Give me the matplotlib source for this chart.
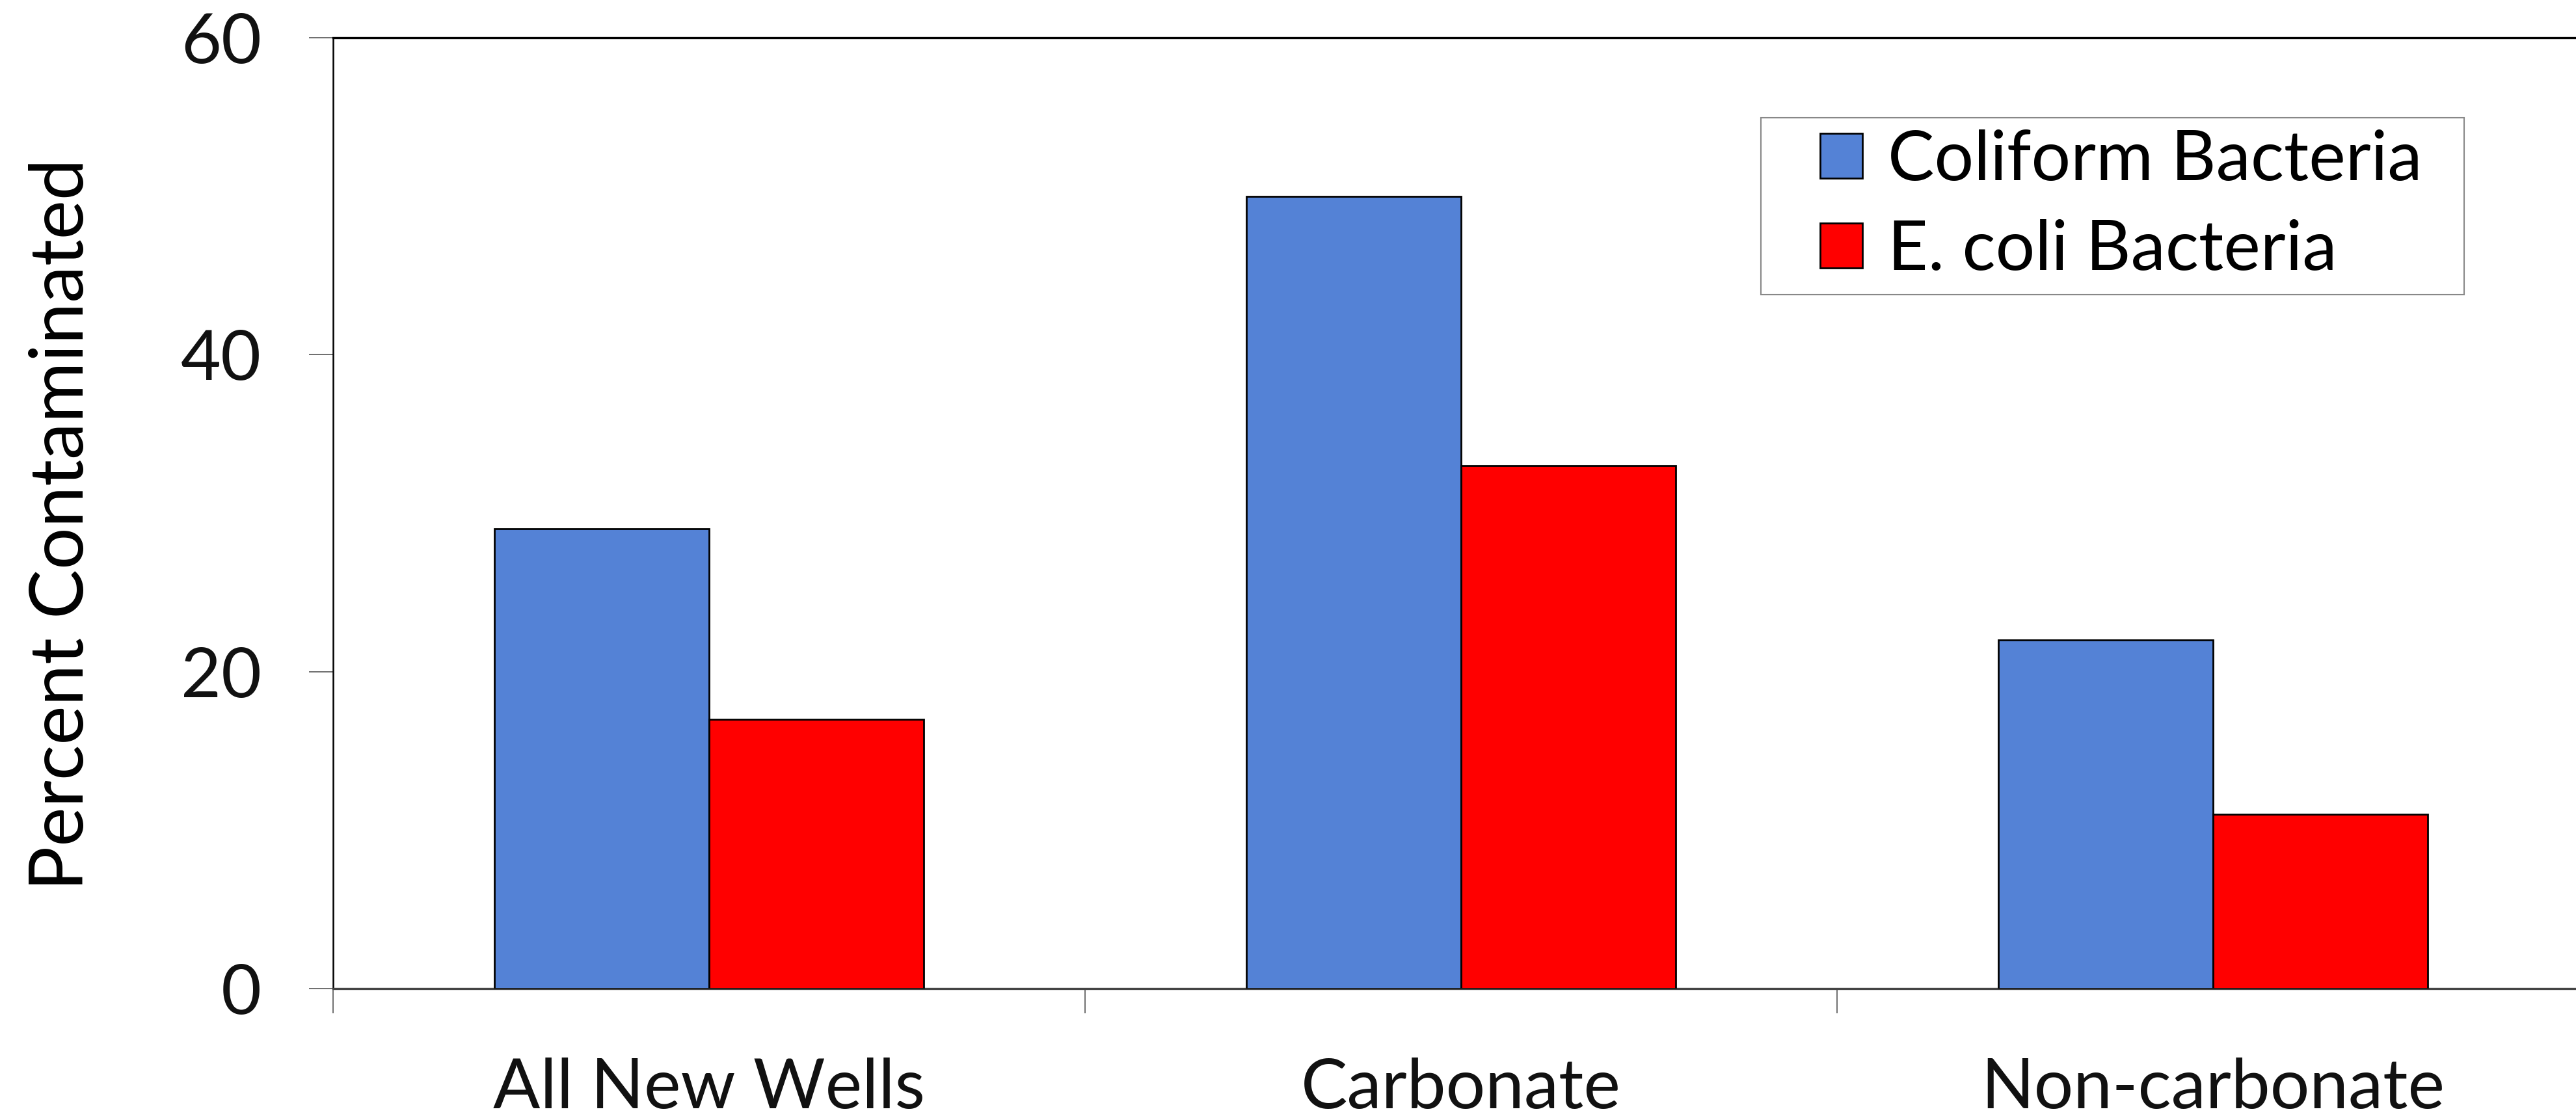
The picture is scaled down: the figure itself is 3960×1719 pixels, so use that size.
import numpy as np
import matplotlib
matplotlib.use("Agg")
import matplotlib.pyplot as plt
from matplotlib.ticker import FixedLocator
from matplotlib.patches import Rectangle

plt.rcParams["font.family"] = ["Lato", "DejaVu Sans"]

# data
categories = ["All New Wells", "Carbonate", "Non-carbonate"]
coliform = [29, 50, 22]
ecoli = [17, 33, 11]
series_names = ["Coliform Bacteria", "E. coli Bacteria"]
yticks = [0, 20, 40, 60]

blue = "#5482d6"
red = "#ff0000"

W, H = 3960, 1719
fig = plt.figure(figsize=(W / 100, H / 100), dpi=100)
# axes runs past the right edge of the figure on purpose
ax = fig.add_axes([512 / W, 199 / H, 3 * 1156 / W, 1462 / H])

x = np.arange(len(categories))
w = 0.2855
ax.bar(x - w / 2, coliform, w, color=blue, edgecolor="black", linewidth=2,
       label=series_names[0], zorder=3)
ax.bar(x + w / 2, ecoli, w, color=red, edgecolor="black", linewidth=2,
       label=series_names[1], zorder=3)

ax.set_xlim(-0.5, len(categories) - 0.5)
ax.set_ylim(0, 60)

# category labels at centres, ticks at the boundaries
ax.set_xticks(x)
ax.set_xticklabels(categories, fontsize=77)
ax.xaxis.set_minor_locator(FixedLocator(np.arange(-0.5, len(categories), 1.0)))
ax.tick_params(axis="x", which="major", length=0, pad=76)
ax.tick_params(axis="x", which="minor", length=27, width=1.2, color="#555555",
               direction="out")

ax.set_yticks(yticks)
ax.set_yticklabels([str(t) for t in yticks], fontsize=77)
ax.tick_params(axis="y", length=27, width=1.2, color="#555555", pad=52,
               direction="out")

ax.set_ylabel("Percent Contaminated", fontsize=82)
ax.yaxis.set_label_coords(-0.105, 0.488)

ax.spines["left"].set_linewidth(1.8)
ax.spines["top"].set_linewidth(2.4)
ax.spines["bottom"].set_linewidth(2.4)
ax.spines["bottom"].set_color("#444444")
ax.spines["right"].set_visible(False)

for lab in ax.get_xticklabels() + ax.get_yticklabels():
    lab.set_color("#111111")

# legend box drawn separately so the side padding can be wider than the top
ax.add_patch(Rectangle((2707 / W, 1 - 453 / H), 1081 / W, 272 / H,
                       transform=fig.transFigure, facecolor="white",
                       edgecolor="#888888", linewidth=1.5, zorder=5,
                       clip_on=False))
leg = ax.legend(loc="center left", bbox_to_anchor=(2798 / W, 1 - 316 / H),
                bbox_transform=fig.transFigure, borderaxespad=0, borderpad=0,
                fontsize=77, frameon=False,
                handlelength=0.61, handleheight=0.62, handletextpad=0.36,
                labelspacing=0.39)
leg.set_zorder(6)
for h in leg.legend_handles:
    h.set_linewidth(2)

fig.savefig("out.png", dpi=100)
